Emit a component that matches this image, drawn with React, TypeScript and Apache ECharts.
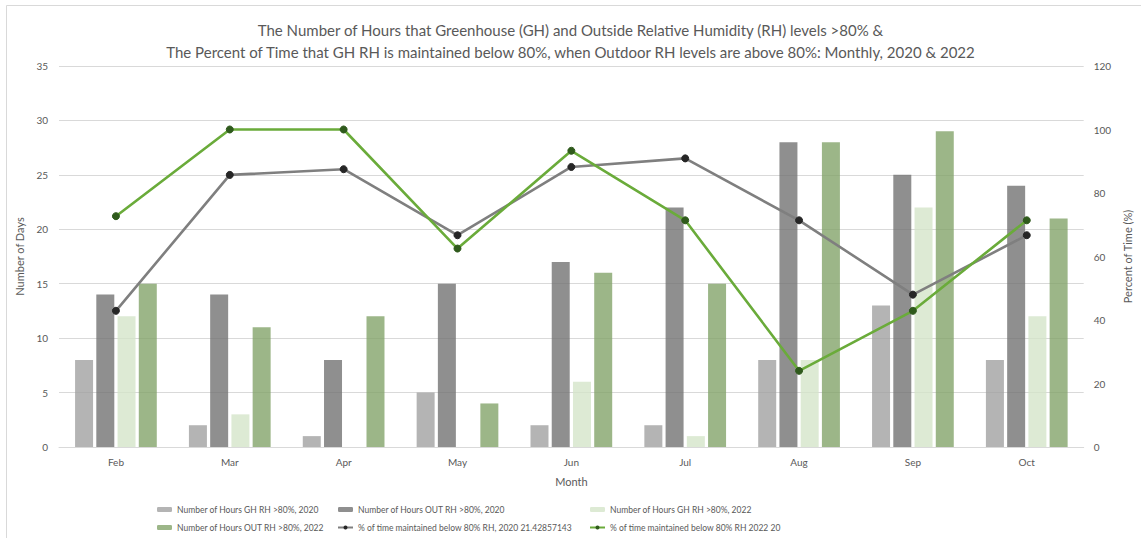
import React, { useEffect, useRef } from "react";
import * as echarts from "echarts";

const months = ["Feb", "Mar", "Apr", "May", "Jun", "Jul", "Aug", "Sep", "Oct"];

const ghHours2020 = [8, 2, 1, 5, 2, 2, 8, 13, 8];
const outHours2020 = [14, 14, 8, 15, 17, 22, 28, 25, 24];
const ghHours2022 = [12, 3, 0, 0, 6, 1, 8, 22, 12];
const outHours2022 = [15, 11, 12, 4, 16, 15, 28, 29, 21];

const pctBelow2020 = [42.9, 85.7, 87.5, 66.7, 88.2, 90.9, 71.4, 48, 66.7];
const pctBelow2022 = [72.7, 100, 100, 62.5, 93.3, 71.4, 24, 42.9, 71.4];

const leftTicks = { min: 0, max: 35, interval: 5 };
const rightTicks = { min: 0, max: 120, interval: 20 };

const names = {
  gh2020: "Number of Hours GH RH >80%, 2020",
  out2020: "Number of Hours OUT RH >80%, 2020",
  gh2022: "Number of Hours GH RH >80%, 2022",
  out2022: "Number of Hours OUT RH >80%, 2022",
  pct2020: "% of time maintained below 80% RH, 2020 21.42857143",
  pct2022: "% of time maintained below 80% RH 2022 20",
};

const FONT = "Lato, 'Open Sans', sans-serif";
const TXT = "#595959";

export default function App() {
  const ref = useRef<HTMLDivElement>(null);

  useEffect(() => {
    document.body.style.margin = "0";
    if (!ref.current) return;
    const chart = echarts.init(ref.current, undefined, { renderer: "svg" });

    const bar = (name: string, data: number[], color: string) => ({
      name,
      type: "bar",
      data,
      yAxisIndex: 0,
      barWidth: 18,
      barGap: "18%",
      itemStyle: { color, opacity: 0.78 },
    });

    const line = (name: string, data: number[], color: string, dot: string) => ({
      name,
      type: "line",
      data,
      yAxisIndex: 1,
      symbol: "circle",
      symbolSize: 7,
      lineStyle: { color, width: 2.6 },
      itemStyle: { color: dot, borderColor: dot },
      z: 5,
    });

    const legendBase = {
      orient: "vertical",
      top: 500,
      itemGap: 9,
      itemWidth: 15,
      itemHeight: 5,
      textStyle: { color: TXT, fontSize: 8.5, fontFamily: "Lato" },
    };

    chart.setOption({
      animation: false,
      textStyle: { fontFamily: FONT },
      title: {
        text:
          "The Number of Hours that Greenhouse (GH) and Outside Relative Humidity (RH) levels >80% &\nThe Percent of Time that GH RH is maintained below 80%, when Outdoor RH levels are above 80%: Monthly, 2020 & 2022",
        left: "center",
        top: 14,
        textStyle: { color: TXT, fontSize: 15, fontWeight: "normal", lineHeight: 22, fontFamily: FONT },
      },
      graphic: [
        {
          type: "rect",
          shape: { x: 6.5, y: 5.5, width: 1200, height: 600 },
          style: { fill: "none", stroke: "#d9d9d9", lineWidth: 1 },
          silent: true,
        },
      ],
      legend: [
        { ...legendBase, left: 152, data: [names.gh2020, names.out2022] },
        { ...legendBase, left: 332, data: [names.out2020, names.pct2020] },
        { ...legendBase, left: 584, data: [names.gh2022, names.pct2022] },
      ],
      grid: { left: 59, right: 51, top: 66, bottom: 91 },
      xAxis: {
        type: "category",
        data: months,
        name: "Month",
        nameLocation: "middle",
        nameGap: 29,
        nameTextStyle: { color: TXT, fontSize: 11 },
        axisLine: { lineStyle: { color: "#d9d9d9" } },
        axisTick: { show: false },
        axisLabel: { color: TXT, fontSize: 10, margin: 10 },
      },
      yAxis: [
        {
          type: "value",
          ...leftTicks,
          name: "Number of Days",
          nameLocation: "middle",
          nameGap: 16,
          nameTextStyle: { color: TXT, fontSize: 11 },
          axisLabel: { color: TXT, fontSize: 10, margin: 11 },
          splitLine: { lineStyle: { color: "#d9d9d9" } },
        },
        {
          type: "value",
          ...rightTicks,
          name: "Percent of Time (%)",
          nameLocation: "middle",
          nameGap: 32,
          nameTextStyle: { color: TXT, fontSize: 11 },
          axisLabel: { color: TXT, fontSize: 10, margin: 10 },
          splitLine: { show: false },
        },
      ],
      series: [
        bar(names.gh2020, ghHours2020, "#9f9f9f"),
        bar(names.out2020, outHours2020, "#6f6f6f"),
        bar(names.gh2022, ghHours2022, "#d3e4c8"),
        bar(names.out2022, outHours2022, "#80a266"),
        line(names.pct2020, pctBelow2020, "#7f7f7f", "#262626"),
        line(names.pct2022, pctBelow2022, "#6aab3a", "#2f5a1c"),
      ],
    });

    return () => chart.dispose();
  }, []);

  return <div ref={ref} style={{ width: 1141, height: 538 }} />;
}
